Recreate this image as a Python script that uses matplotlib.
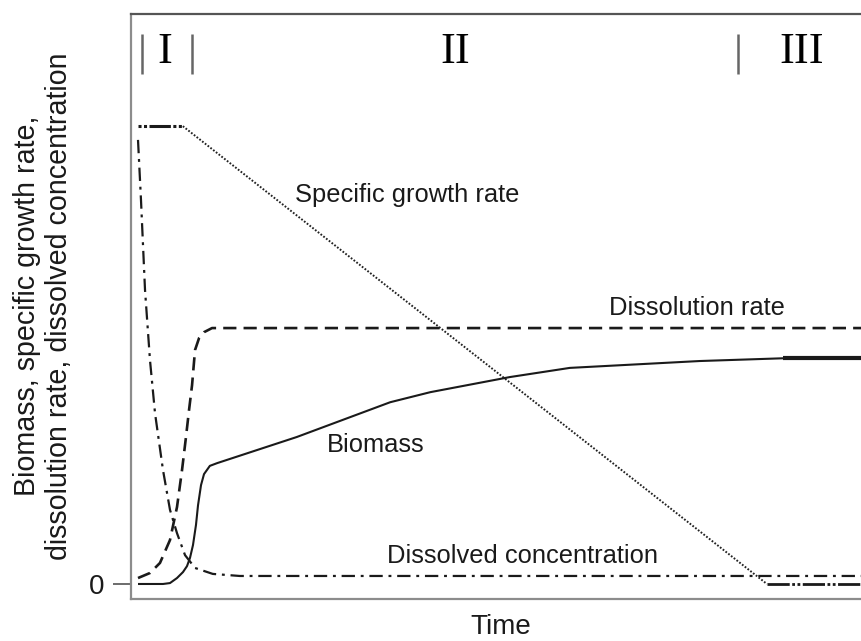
import matplotlib
matplotlib.use("Agg")
import matplotlib.pyplot as plt

plt.rcParams["font.family"] = ["Liberation Sans", "DejaVu Sans"]

ink = "#1a1a1a"

# time axis runs 0..100, response axis is scaled so the peak growth rate is 100
growth_t = [7.1, 87.1]
growth_v = [100.0, 0.0]
growth_hi_t = [0.96, 7.1]
growth_hi_v = [100.0, 100.0]
growth_lo_t = [87.1, 102.0]
growth_lo_v = [0.0, 0.0]

conc_t = [0.96, 1.37, 1.92, 2.60, 3.29, 4.38, 5.34, 6.30, 7.40, 8.77, 11.2, 14.9, 102.0]
conc_v = [97.0, 83.8, 64.2, 48.9, 37.3, 24.9, 16.2, 11.1, 6.3, 3.5, 2.2, 1.75, 1.75]

dissol_t = [0.96, 2.6, 3.97, 5.34, 6.30, 6.99, 7.53, 7.95, 8.36, 8.77, 9.32, 10.0, 11.1, 102.0]
dissol_v = [1.3, 2.4, 4.6, 9.6, 16.8, 24.9, 32.1, 38.0, 43.4, 51.1, 53.7, 55.0, 55.9, 55.9]

biomass_t = [0.96, 4.38, 5.34, 6.30, 7.12, 7.67, 8.08, 8.49, 8.90, 9.18, 9.59, 10.0,
             10.8, 11.8, 22.7, 35.5, 41.0, 51.9, 60.1, 77.9, 89.3]
biomass_v = [0.0, 0.0, 0.2, 1.3, 2.6, 3.9, 5.7, 8.5, 12.9, 17.2, 21.6, 24.0,
             25.8, 26.4, 32.1, 39.7, 41.9, 45.2, 47.2, 48.7, 49.3]
biomass_end_t = [89.3, 102.0]
biomass_end_v = [49.3, 49.3]

phase_names = ["I", "II", "III"]
phase_label_t = [4.66, 44.4, 91.8]
phase_bar_t = [1.5, 8.36, 83.2]

fig = plt.figure(figsize=(8.61, 6.41), dpi=100)
ax = fig.add_axes([131 / 861, 42 / 641, 744 / 861, 585 / 641])

ax.plot(growth_t, growth_v, color="#222222", lw=1.4, ls=(0, (0.9, 0.9)))
ax.plot(growth_hi_t, growth_hi_v, color=ink, lw=2.2,
        ls=(0, (1, 0.8, 1, 0.8, 7, 0.8)))
ax.plot(growth_lo_t, growth_lo_v, color=ink, lw=2.0,
        ls=(0, (8, 0.9, 1, 0.9, 1, 0.9)))
ax.plot(conc_t, conc_v, color=ink, lw=1.6, ls=(0, (6, 2.6, 1.3, 2.6)))
ax.plot(dissol_t, dissol_v, color=ink, lw=1.9, ls=(0, (5, 2.7)))
ax.plot(biomass_t, biomass_v, color=ink, lw=1.5, solid_capstyle="butt")
ax.plot(biomass_end_t, biomass_end_v, color=ink, lw=3.0, solid_capstyle="butt")

ax.vlines(phase_bar_t, 111.5, 120.2, color="#666666", lw=1.8)
for name, t in zip(phase_names, phase_label_t):
    ax.text(t, 116.2, name, ha="center", va="center", fontsize=32,
            family=["Liberation Serif", "DejaVu Serif"], color="black")

ax.text(22.5, 83.4, "Specific growth rate", fontsize=18.4, color=ink, va="baseline")
ax.text(65.5, 58.7, "Dissolution rate", fontsize=18.4, color=ink, va="baseline")
ax.text(26.8, 28.8, "Biomass", fontsize=18.4, color=ink, va="baseline")
ax.text(35.1, 4.6, "Dissolved concentration", fontsize=18.4, color=ink, va="baseline")

ax.set_xlim(0, 101.9)
ax.set_ylim(-3.28, 124.5)
ax.set_xticks([])
ax.set_yticks([0])
ax.set_yticklabels(["0"])
ax.tick_params(axis="y", length=13, width=1.1, color="#444444", pad=6.5,
               labelsize=20, labelcolor=ink)
for side in ["left", "bottom", "top", "right"]:
    ax.spines[side].set_color("#8c8c8c")
    ax.spines[side].set_linewidth(1.6)
ax.spines["top"].set_color("#555555")

fig.text(43 / 861, 1 - 306 / 641,
         "Biomass, specific growth rate,\ndissolution rate, dissolved concentration",
         rotation=90, ha="center", va="center", multialignment="center",
         fontsize=20.6, color=ink, linespacing=1.15)
fig.text(501 / 861, 1 - 634 / 641, "Time", ha="center", va="baseline",
         fontsize=20, color=ink)

fig.savefig("out.png", dpi=100)
plt.close(fig)
